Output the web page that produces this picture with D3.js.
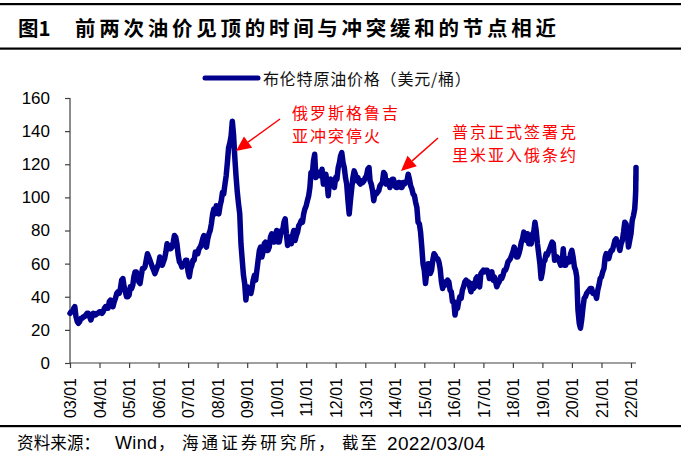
<!DOCTYPE html>
<html><head><meta charset="utf-8">
<script src="https://cdn.jsdelivr.net/npm/d3@7"></script>
<style>
html,body{margin:0;padding:0;background:#fff;}
svg{display:block;}
</style></head>
<body>
<svg id="chart" width="681" height="468"></svg>
<script>
// ---- data (Brent, USD/bbl, values at day 1 and day 16 of each month) ----
const p2003 = [30,31, 31,33, 34,28, 25,24, 25,27, 27,28, 28,29, 30,30, 28,26, 28,30, 29,29, 30,30];
const p2004 = [31,31, 30,31, 33,34, 33,33, 37,38, 36,34, 37,39, 42,43, 42,45, 50,51, 46,43, 40,40];
const p2005 = [41,46, 45,47, 52,55, 55,51, 49,48, 53,57, 57,58, 62,66, 64,62, 60,58, 56,54, 56,58];
const p2006 = [60,64, 61,59, 61,63, 67,72, 71,69, 69,70, 73,77, 76,72, 65,61, 60,58, 59,60, 62,62];
const p2007 = [55,52, 57,59, 62,62, 67,67, 66,69, 70,72, 75,77, 71,70, 75,78, 80,84, 90,93, 90,95];
const p2008 = [93,90, 95,98, 103,102, 108,113, 121,130, 133,137, 146,138, 124,113, 103,96, 90,72, 62,53, 48,38];
const p2009 = [46,44, 43,42, 45,50, 53,50, 56,62, 68,70, 64,67, 72,73, 68,68, 70,76, 78,77, 73,77];
const p2010 = [80,73, 73,77, 80,80, 85,87, 78,71, 74,76, 72,77, 80,74, 77,79, 83,84, 86,85, 90,93];
const p2011 = [95,98, 101,106, 115,113, 122,126, 112,114, 115,113, 113,117, 108,109, 114,109, 101,110, 111,108, 108,106];
const p2012 = [112,111, 118,121, 125,127, 121,118, 112,108, 98,90, 98,105, 112,116, 114,110, 112,109, 108,110, 109,110];
const p2013 = [112,113, 117,118, 110,108, 104,98, 103,102, 103,104, 107,108, 109,115, 114,108, 109,110, 106,108, 111,111];
const p2014 = [107,106, 106,109, 109,106, 106,109, 108,109, 110,114, 111,107, 105,102, 101,97, 94,85, 84,79, 70,60];
const p2015 = [56,48, 55,60, 60,54, 56,62, 66,65, 63,63, 61,57, 49,45, 49,47, 48,50, 49,44, 43,37];
const p2016 = [37,29, 34,33, 37,40, 39,44, 46,49, 50,48, 49,46, 43,48, 45,46, 51,52, 48,46, 54,55];
const p2017 = [56,55, 56,56, 55,51, 53,55, 50,52, 49,46, 48,49, 52,51, 53,56, 56,58, 61,62, 63,65];
const p2018 = [67,70, 68,64, 64,66, 69,73, 75,79, 77,74, 78,72, 73,72, 78,79, 85,80, 72,66, 60,51];
const p2019 = [55,61, 62,66, 65,67, 69,71, 73,72, 62,63, 64,63, 61,59, 60,69, 59,59, 62,63, 61,66];
const p2020 = [68,64, 58,56, 52,32, 24,21, 26,33, 39,40, 42,43, 44,45, 45,42, 42,42, 39,44, 47,51];
const p2021 = [52,55, 57,64, 66,64, 63,66, 68,68, 71,74, 75,73, 71,68, 72,74, 79,85, 84,79, 70,74];
const dates2022 = ["2022-01-01","2022-01-16","2022-02-01","2022-02-16","2022-02-24","2022-03-01","2022-03-02","2022-03-03","2022-03-04"];
const p2022 = [78, 86, 89, 93, 99, 105, 113, 110, 118];

const yearly = [p2003,p2004,p2005,p2006,p2007,p2008,p2009,p2010,p2011,p2012,p2013,p2014,p2015,p2016,p2017,p2018,p2019,p2020,p2021];
const yTicks = [0,20,40,60,80,100,120,140,160];
const seriesName = "布伦特原油价格（美元/桶）";
const titleNum = "图1";
const titleText = "前两次油价见顶的时间与冲突缓和的节点相近";
const sourceParts = ["资料来源：", "Wind", "，", "海通证券研究所", "，", "截至", "2022/03/04"];
const note1 = ["俄罗斯格鲁吉","亚冲突停火"];
const note2 = ["普京正式签署克","里米亚入俄条约"];
const note1Date = "2008-08-15", note1Val = 128;
const note2Date = "2014-03-18", note2Val = 116;

// build series
const parse = d3.timeParse("%Y-%m-%d");
const data = [];
yearly.forEach((arr, yi) => {
  arr.forEach((v, i) => {
    data.push({date: new Date(2003 + yi, Math.floor(i/2), i % 2 === 0 ? 1 : 16), v});
  });
});
dates2022.forEach((d, i) => data.push({date: parse(d), v: p2022[i]}));

const svg = d3.select("#chart");
const CN = "'Noto Sans CJK SC','Noto Sans',sans-serif";
const LAT = "'Liberation Sans',Arial,'Noto Sans CJK SC',sans-serif";

const x = d3.scaleTime().domain([new Date(2003,0,1), parse("2022-03-04")]).range([70, 636]);
const y = d3.scaleLinear().domain([0,160]).range([363, 98]);

// frame lines
svg.append("rect").attr("x",0).attr("y",3).attr("width",681).attr("height",2.2).attr("fill","#000");
svg.append("rect").attr("x",0).attr("y",47.5).attr("width",681).attr("height",2.2).attr("fill","#000");
svg.append("rect").attr("x",0).attr("y",425).attr("width",681).attr("height",2.2).attr("fill","#000");

// title
const t = svg.append("text").attr("y",27).attr("dominant-baseline","central")
  .attr("font-weight","bold").attr("font-size",20.5).attr("font-family",CN).attr("fill","#000");
t.append("tspan").attr("x",18).text(titleNum);
t.append("tspan").attr("x",75).attr("textLength",481).attr("lengthAdjust","spacing").text(titleText);

// axes
const yAxis = svg.append("g").attr("transform","translate(70,0)")
  .call(d3.axisLeft(y).tickValues(yTicks).tickSize(5).tickPadding(15).tickFormat(d3.format("d")));
const xAxis = svg.append("g").attr("transform","translate(0,363)")
  .call(d3.axisBottom(x).ticks(d3.timeYear.every(1)).tickSize(5).tickFormat(d3.timeFormat("%y/%m")));
[yAxis, xAxis].forEach(g => {
  g.select(".domain").attr("stroke","#404040").attr("stroke-width",1.2);
  g.selectAll(".tick line").attr("stroke","#404040").attr("stroke-width",1.2);
});
yAxis.select(".domain").attr("d","M0,98V363");
xAxis.select(".domain").attr("d","M70,0H636");
yAxis.selectAll(".tick text").attr("font-size",17).attr("font-family",LAT).attr("fill","#000");
xAxis.selectAll(".tick text").attr("font-size",16).attr("font-family",LAT).attr("fill","#000")
  .attr("transform","rotate(-90)").attr("text-anchor","end")
  .attr("x",-15).attr("y",0).attr("dy","0.36em");

// line
svg.append("path").datum(data)
  .attr("fill","none").attr("stroke","#00008c").attr("stroke-width",5.5)
  .attr("stroke-linejoin","round").attr("stroke-linecap","round")
  .attr("d", d3.line().x(d => x(d.date)).y(d => y(d.v)));

// legend
svg.append("line").attr("x1",205).attr("x2",258).attr("y1",78).attr("y2",78)
  .attr("stroke","#00008c").attr("stroke-width",5).attr("stroke-linecap","round");
svg.append("text").attr("x",263).attr("y",78).attr("dominant-baseline","central")
  .attr("font-size",16).attr("font-family",CN).attr("letter-spacing",0.8).attr("fill","#111").text(seriesName);

// annotations
function arrow(x1,y1,x2,y2){
  const ang = Math.atan2(y2-y1, x2-x1), L = 15, W = 7;
  const bx = x2 - L*Math.cos(ang), by = y2 - L*Math.sin(ang);
  svg.append("line").attr("x1",x1).attr("y1",y1).attr("x2",bx).attr("y2",by)
    .attr("stroke","#ff0000").attr("stroke-width",1.5);
  const px = -Math.sin(ang), py = Math.cos(ang);
  svg.append("path").attr("fill","#ff0000")
    .attr("d",`M${x2},${y2}L${bx+px*W},${by+py*W}L${bx-px*W},${by-py*W}Z`);
}
const tip1 = [x(parse(note1Date)), y(note1Val)];
const tip2 = [x(parse(note2Date)), y(note2Val)];
arrow(280,119, tip1[0], tip1[1]);
arrow(438,138, tip2[0], tip2[1]);
function note(lines, x0, y0){
  lines.forEach((s,i)=>{
    svg.append("text").attr("x",x0).attr("y",y0+i*23).attr("dominant-baseline","central")
      .attr("font-size",16).attr("font-family",CN).attr("letter-spacing",2).attr("fill","#ff0000").text(s);
  });
}
note(note1, 292, 112);
note(note2, 452, 131);

// source
const src = svg.append("text").attr("y",443).attr("dominant-baseline","central")
  .attr("font-family",LAT).attr("fill","#000");
const srcX   = [17, 115, 158, 182, 318, 342, 387];
const srcLen = [83, 42, 16, 134, 16, 35, 98];
const srcSz  = [16.5, 18, 16.5, 16.5, 16.5, 16.5, 19];
sourceParts.forEach((s,i)=>{
  src.append("tspan").attr("x",srcX[i]).attr("font-size",srcSz[i])
    .attr("textLength",srcLen[i]).attr("lengthAdjust","spacing").text(s);
});
</script>
</body></html>
